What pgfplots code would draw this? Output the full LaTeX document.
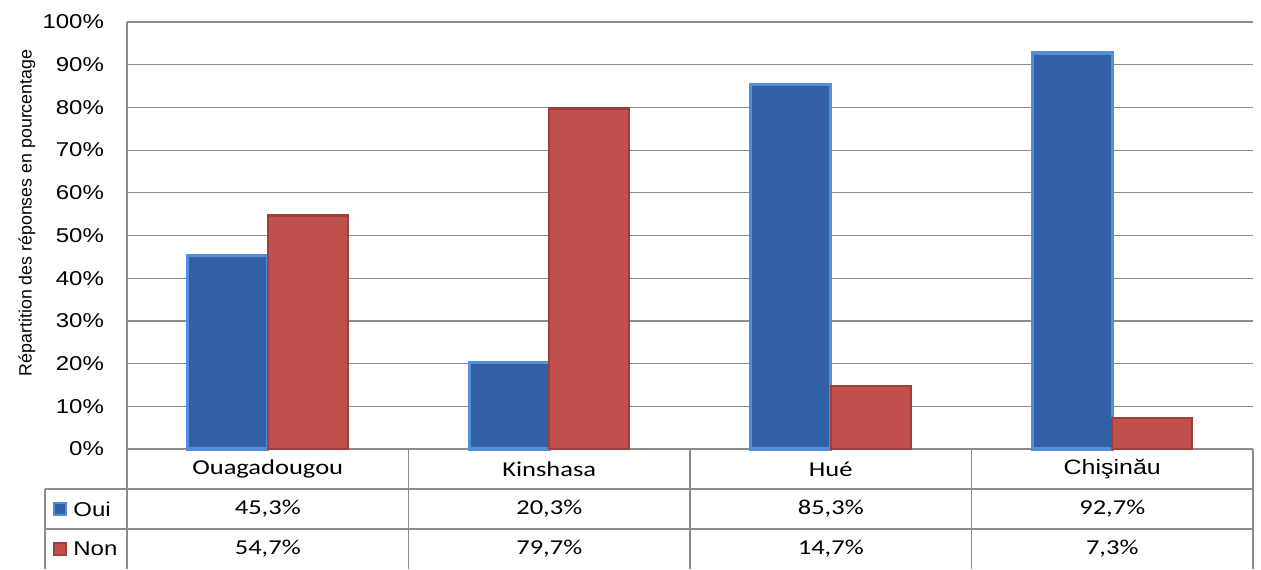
\documentclass[border=0pt]{standalone}
\usepackage{pgfplots}
\pgfplotsset{compat=1.18}
\usepackage{fontspec}
\setmainfont[FakeStretch=1.2]{Liberation Sans}
\newfontfamily\calib[FakeStretch=1.25]{Carlito}
\newfontfamily\plain{Liberation Sans}

\definecolor{ouiface}{RGB}{50,96,166}
\definecolor{ouiedge}{RGB}{82,142,220}
\definecolor{nonface}{RGB}{192,80,77}
\definecolor{nonedge}{RGB}{160,62,60}
\definecolor{gridgray}{RGB}{140,140,140}

\begin{document}
\begin{tikzpicture}
  \begin{axis}[
      scale only axis,
      width=563pt, height=213.5pt,
      ybar=0pt, bar width=40pt,
      xmin=-0.5, xmax=3.5,
      ymin=0, ymax=100,
      xtick=\empty,
      ytick={0,10,...,100},
      yticklabel={\pgfmathprintnumber{\tick}\%},
      yticklabel style={font=\fontsize{10}{12}\selectfont, xshift=-8pt},
      /pgf/number format/assume math mode=true,
      major tick length=0pt,
      ymajorgrids,
      grid style={gridgray, line width=0.6pt},
      axis x line*=bottom,
      axis y line*=left,
      axis line style={gridgray, line width=0.6pt, -},
      clip=false,
    ]
    \addplot[fill=ouiface, draw=ouiedge, line width=1.7pt]
      coordinates {(0,45.3) (1,20.3) (2,85.3) (3,92.7)};
    \addplot[fill=nonface, draw=nonedge, line width=1.2pt]
      coordinates {(0,54.7) (1,79.7) (2,14.7) (3,7.3)};

    % data table under the chart
    \draw[gridgray, line width=0.6pt] (axis cs:-0.5,0) -- (axis cs:-0.5,-28.1);
    \draw[gridgray, line width=0.6pt] (axis cs:0.5,0) -- (axis cs:0.5,-28.1);
    \draw[gridgray, line width=0.6pt] (axis cs:1.5,0) -- (axis cs:1.5,-28.1);
    \draw[gridgray, line width=0.6pt] (axis cs:2.5,0) -- (axis cs:2.5,-28.1);
    \draw[gridgray, line width=0.6pt] (axis cs:3.5,0) -- (axis cs:3.5,-28.1);
    \draw[gridgray, line width=0.6pt] (axis cs:-0.791,-9.37) -- (axis cs:3.5,-9.37);
    \draw[gridgray, line width=0.6pt] (axis cs:-0.791,-18.74) -- (axis cs:3.5,-18.74);
    \draw[gridgray, line width=0.6pt] (axis cs:-0.791,-9.37) -- (axis cs:-0.791,-28.1);

    \node[font=\calib\fontsize{10.6}{12}\selectfont] at (axis cs:0,-4.68) {Ouagadougou};
    \node[font=\calib\fontsize{10.6}{12}\selectfont] at (axis cs:1,-4.68) {Kinshasa};
    \node[font=\calib\fontsize{10.6}{12}\selectfont] at (axis cs:2,-4.68) {Hué};
    \node[font=\fontsize{10.4}{12}\selectfont] at (axis cs:3,-4.68) {Chişinău};

    \node[font=\calib\fontsize{10.6}{12}\selectfont] at (axis cs:0,-14.05) {45,3\%};
    \node[font=\calib\fontsize{10.6}{12}\selectfont] at (axis cs:1,-14.05) {20,3\%};
    \node[font=\calib\fontsize{10.6}{12}\selectfont] at (axis cs:2,-14.05) {85,3\%};
    \node[font=\calib\fontsize{10.6}{12}\selectfont] at (axis cs:3,-14.05) {92,7\%};
    \node[font=\calib\fontsize{10.6}{12}\selectfont] at (axis cs:0,-23.42) {54,7\%};
    \node[font=\calib\fontsize{10.6}{12}\selectfont] at (axis cs:1,-23.42) {79,7\%};
    \node[font=\calib\fontsize{10.6}{12}\selectfont] at (axis cs:2,-23.42) {14,7\%};
    \node[font=\calib\fontsize{10.6}{12}\selectfont] at (axis cs:3,-23.42) {7,3\%};

    % legend keys
    \fill[ouiface, draw=ouiedge, line width=0.8pt] ([xshift=-36.5pt,yshift=-3pt]axis cs:-0.5,-14.05) rectangle ++(6pt,6pt);
    \fill[nonface, draw=nonedge, line width=0.8pt] ([xshift=-36.5pt,yshift=-3pt]axis cs:-0.5,-23.42) rectangle ++(6pt,6pt);
    \node[anchor=west, inner sep=0pt, font=\fontsize{10}{12}\selectfont] at ([xshift=-27pt]axis cs:-0.5,-14.05) {Oui};
    \node[anchor=west, inner sep=0pt, font=\fontsize{10}{12}\selectfont] at ([xshift=-27pt]axis cs:-0.5,-23.42) {Non};

    % y label
    \node[rotate=90, font=\plain\fontsize{8.9}{10}\selectfont] at ([xshift=-50pt]rel axis cs:0,0.553)
      {Répartition des réponses en pourcentage};
  \end{axis}
  \pgfresetboundingbox
  \useasboundingbox (-63.5pt,-60pt) rectangle (567pt,224.5pt);
\end{tikzpicture}
\end{document}
